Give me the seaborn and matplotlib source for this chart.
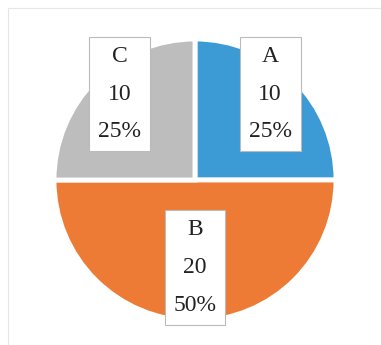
import numpy as np
import matplotlib
matplotlib.use("Agg")
import matplotlib.pyplot as plt
import seaborn as sns
from matplotlib.patches import Rectangle

sns.set_theme(style="white")

categories = ["A", "B", "C"]
values = [10, 20, 10]
colors = ["#3C9AD4", "#EE7B35", "#BDBDBD"]
label_dist = [0.82, 0.62, 0.82]

fig = plt.figure(figsize=(3.81, 3.45), dpi=100)
fig.patch.set_facecolor("white")
# faint outer frame (top and left visible)
fig.add_artist(Rectangle((8 / 381, -0.1), 1.2, (345 - 8) / 345 + 0.1,
                         transform=fig.transFigure, fill=False,
                         edgecolor="#E6E6E6", linewidth=0.8))

ax = fig.add_axes([54 / 381, 24 / 345, 282 / 381, 282 / 345])
total = sum(values)
wedges, _ = ax.pie(values, colors=colors, startangle=90, counterclock=False,
                   radius=1.0,
                   wedgeprops=dict(edgecolor="white", linewidth=3.5))
ax.set_xlim(-1, 1)
ax.set_ylim(-1, 1)
ax.set_aspect("equal")
ax.axis("off")

for w, cat, v, d in zip(wedges, categories, values, label_dist):
    mid = np.deg2rad((w.theta1 + w.theta2) / 2)
    # labels sit slightly nearer the vertical axis than the bisector
    x, y = 0.92 * d * np.cos(mid), 1.05 * d * np.sin(mid)
    if abs(np.cos(mid)) < 1e-6:
        x, y = d * np.cos(mid), d * np.sin(mid)
    pct = v / total * 100
    ax.text(x, y, f"{cat}\n{v}\n{pct:.0f}%", ha="center", va="center",
            family=["Liberation Serif", "DejaVu Serif"], fontsize=17,
            color="#222222", linespacing=2.05,
            bbox=dict(boxstyle="square,pad=0.38", facecolor="white",
                      edgecolor="#BBBBBB", linewidth=0.8))

fig.savefig("out.png", dpi=100, facecolor="white")
